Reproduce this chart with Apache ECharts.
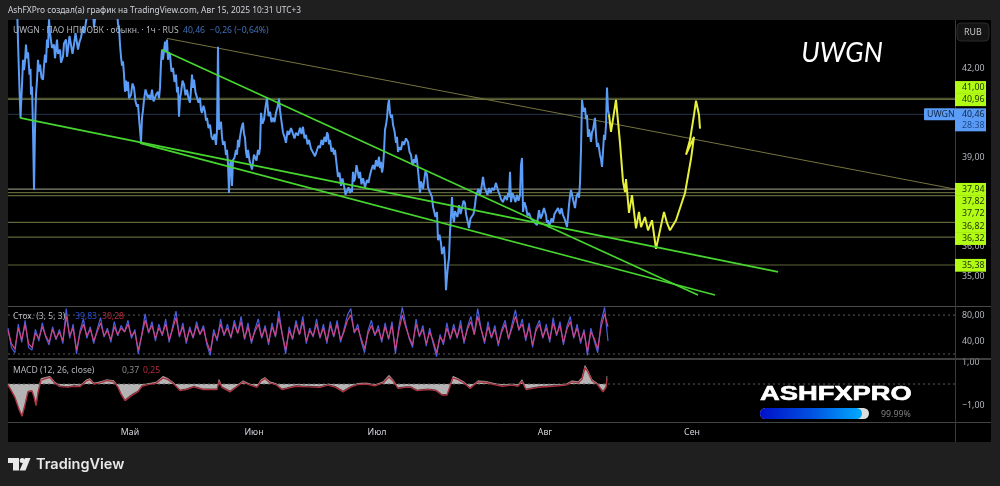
<!DOCTYPE html>
<html>
<head>
<meta charset="utf-8">
<style>html,body{margin:0;padding:0;background:#1f1f1f}#chart{width:1000px;height:486px}</style>
<script src="https://cdn.jsdelivr.net/npm/echarts@6/dist/echarts.min.js"></script>
</head>
<body>
<div id="chart"></div>
<script>
// Close price, hourly, as [bar, RUB]
const closePath = [[8,45],[9,44.2],[10,42.9],[11.5,41.29],[12.5,40.34],[13.5,41.1],[14.2,41.6],[15,42.3],[16,41.95],[17,42.25],[18,42.81],[19,42.35],[20,42.55],[21.5,41.8],[22.5,42.0],[23,41.12],[24,41.4],[25,39.94],[26,37.91],[27,39.94],[28,41.12],[29,41.6],[30,42.3],[31,41.9],[32,42.14],[33.5,41.7],[35,41.63],[36,42.1],[37,42.47],[38,42.2],[39,42.98],[40,42.7],[41,43.66],[42,43.2],[43,43.15],[44,42.7],[46,42.81],[47,42.35],[49,42.98],[50,42.5],[52,42.64],[53,42.2],[55,42.41],[56,42.85],[58,42.98],[59,42.4],[60,42.64],[61.5,43.1],[63,43.05],[64.5,42.5],[66,42.81],[67.5,43.2],[69,43.15],[70,42.64],[71.5,42.9],[73,43.05],[75,43.42],[76.5,43.2],[78,43.59],[80,43.93],[85,43.93],[86,43.39],[88,43.93],[92,44.16],[109,43.99],[110,43.5],[111,43.39],[112,42.81],[113,42.4],[114,42.1],[115,42.25],[116,41.8],[117,41.22],[118,41.6],[119,41.25],[120,41.56],[121,41.0],[123,41.12],[124.5,41.5],[126,41.36],[127.5,40.9],[129,40.72],[130,40.8],[131,40.34],[133,39.53],[134,40.34],[135,40.6],[136,40.95],[137.5,41.3],[139,41.36],[140,41.0],[141,41.12],[142.5,40.95],[144,41.29],[145.5,40.9],[147,40.88],[148.5,41.15],[150,41.22],[151,41.0],[152,41.36],[153,42.2],[154,42.64],[155,42.3],[157,42.91],[158,42.55],[159,42.98],[160,42.3],[161,42.55],[162,42.47],[163.5,41.9],[165,42.03],[166.5,41.55],[168,41.8],[169,41.2],[170,41.39],[171,40.38],[172,41.0],[173,41.19],[174.5,41.6],[176,41.46],[177.5,41.1],[179,41.29],[180.5,41.0],[182,40.85],[183,41.3],[184,41.8],[185,41.35],[186,41.63],[187.5,41.2],[189,41.19],[190.5,40.85],[192,41.02],[193,40.6],[194,40.51],[195.5,40.75],[197,40.55],[198,40.25],[199,40.34],[200.5,40.0],[202,40.11],[203.5,39.7],[205,39.6],[206.5,39.8],[208,39.43],[209,39.94],[210,42.74],[211,39.94],[212,40.0],[213,40.21],[214,39.7],[215,39.43],[216.5,39.55],[218,39.09],[219,39.26],[220,38.8],[221,37.81],[222,38.75],[223,38.92],[224,38.05],[225,38.92],[226.5,39.0],[228,39.26],[229,39.1],[230,39.6],[231,39.35],[232,39.7],[233.5,40.0],[235,40.18],[236,39.8],[237,39.67],[238,39.2],[239,38.99],[240,39.26],[241.5,38.9],[243,38.92],[244,38.6],[245,38.55],[246,39.1],[247,39.16],[248.5,38.9],[250,39.26],[251,39.1],[252,39.33],[253,40.51],[254.5,40.15],[256,40.28],[257.5,40.7],[259,41.02],[260.5,40.4],[262,40.55],[263.5,40.2],[265,40.34],[266.5,40.2],[268,40.51],[269.5,40.7],[271,40.99],[272,40.6],[273,40.34],[274,40.1],[275,39.84],[276.5,39.7],[278,39.5],[279.5,39.9],[281,39.77],[283,40.0],[285,39.94],[286.5,39.65],[288,39.84],[290,39.75],[292,40.01],[293.5,39.8],[295,40.04],[296.5,39.65],[298,39.77],[299.5,39.45],[301,39.6],[303,39.3],[305,39.33],[307,39.05],[309,39.03],[310.5,39.4],[312,39.33],[313.5,39.6],[315,39.43],[316.5,39.7],[318,39.53],[319,39.85],[320,39.77],[321,39.45],[322,39.6],[323.5,39.2],[325,39.33],[326,39.1],[327,39.26],[328.5,38.8],[330,38.35],[331.5,38.5],[333,38.05],[334.5,38.3],[336,38.05],[337.5,37.75],[339,37.74],[340.5,38.0],[342,37.81],[343,37.95],[344,37.84],[345,38.52],[346,38.2],[347,38.31],[348.5,38.75],[350,38.75],[351,38.3],[352,38.52],[353.5,38.1],[355,38.31],[357,38.0],[359,38.25],[360.5,38.15],[362,38.42],[363.5,38.6],[365,38.75],[366.5,38.6],[368,38.92],[369.5,38.7],[371,39.03],[372,38.65],[373,38.86],[374,38.5],[375,38.69],[376,39.2],[377,39.94],[378,40.1],[379,40.34],[380,40.75],[381,40.95],[382,40.5],[383,40.34],[384,40.45],[385,40.11],[386.5,39.9],[388,39.5],[389,39.7],[390,39.19],[391.5,39.35],[393,39.26],[394.5,39.55],[396,39.43],[398,39.65],[400,39.53],[401.5,39.2],[403,39.09],[404,38.85],[405,38.75],[406,38.95],[407,38.82],[408,39.1],[409,38.92],[410.5,38.4],[412,37.81],[413,38.2],[414,38.25],[415,37.95],[416,37.91],[417.5,38.55],[419,38.42],[420,38.0],[421,37.91],[422.5,37.85],[424,37.67],[425,37.35],[426,37.4],[427.5,37.0],[429,37.17],[430,36.22],[431.5,36.4],[433,36.12],[434,35.75],[435,35.78],[436,36.0],[437,35.48],[438,34.53],[439,35.0],[440,35.37],[441,35.61],[442,36.5],[443,37.06],[444,37.67],[445,37.0],[446,36.83],[447,37.2],[448,37.17],[449.5,37.0],[451,37.4],[452.5,37.1],[454,37.3],[455.5,37.55],[457,37.47],[458,37.1],[459,37.06],[460,36.8],[461,36.63],[462.5,36.95],[464,36.89],[465.5,37.1],[467,37.4],[468,37.7],[469,37.81],[470.5,37.95],[472,37.74],[473.5,38.0],[475,38.35],[476.5,38.0],[478,38.01],[479.5,37.75],[481,37.98],[482.5,37.8],[484,37.98],[486,37.9],[488,38.15],[489.5,37.95],[491,37.81],[493,37.6],[495,37.5],[497,37.7],[499,37.57],[500,37.8],[501,37.67],[502,38.52],[503,37.5],[504.5,37.8],[506,37.67],[507.5,37.5],[509,37.74],[510.5,37.55],[512,37.74],[513,38.75],[514,38.99],[515,37.17],[516.5,37.5],[518,37.33],[519.5,37.05],[521,37.13],[523,36.95],[525,37.0],[527,36.8],[529,36.73],[530,37.0],[531,37.23],[532.5,36.95],[534,37.06],[536,37.3],[538,37.06],[539,36.8],[540,36.89],[541,36.65],[542,36.59],[543.5,36.95],[545,36.83],[546.5,37.1],[548,37.06],[550,37.3],[552,37.1],[553.5,37.3],[555,37.06],[557,36.9],[559,36.66],[560,37.0],[561,37.4],[562,37.7],[563,37.91],[565,37.6],[567,37.3],[568.5,37.7],[570,37.81],[571,37.65],[572,38.15],[573,39.26],[574,40.95],[575.5,40.55],[577,40.68],[578,40.3],[579,40.44],[580,39.7],[581,39.95],[582,39.77],[583,39.53],[584,39.85],[585,39.94],[586,40.0],[587,40.34],[588,39.77],[589,39.36],[590,39.5],[591,39.33],[592,39.09],[593,38.95],[594,38.69],[595,39.2],[596,39.77],[597,39.6],[598,40.11],[599,41.36],[600,40.61],[601,40.46]];

// Hand-sketched outlook drawn after the last bar
const outlookPath = [[601,40.46],[603,39.87],[608,40.95],[612,39.5],[615,38.2],[617,37.84],[618,38.28],[621,37.14],[624,37.74],[628,36.62],[631,37.17],[633,36.66],[637,37.0],[640,36.55],[644,36.89],[648,35.93],[652,36.55],[656,37.17],[659,36.8],[662,36.55],[668,36.89],[677,37.81],[683,38.96],[686,39.7],[678,39.1],[682,39.6],[686,40.44],[688,40.92],[691,40.44],[692,39.98]];

// Drawn trendlines: start and end as [bar, RUB]
const supportUpper = [[12,40.34],[770,35.15]];
const supportLower = [[132,39.49],[707,34.37]];
const channelTop = [[154,42.64],[690,34.37]];
const longTrend = [[159,43.02],[947,37.94]];

// Horizontal levels and the tags on the price scale
const levels = [41.00, 40.96, 37.94, 37.82, 37.72, 36.82, 36.32, 35.38];
const lastClose = 40.46;
const priceTicks = [42, 39, 36, 35];

// Stochastic (3, 5, 3)
const stochK = [60,30,22,66,38,72,30,26,58,40,68,46,34,62,42,58,36,90,44,66,20,56,74,44,62,36,58,76,46,60,38,70,48,64,54,72,44,58,20,50,82,52,70,40,66,48,74,38,62,86,46,68,36,62,44,70,50,64,34,18,58,40,74,48,66,44,72,52,78,42,68,36,58,74,44,64,34,68,46,86,50,20,62,42,72,50,78,36,60,46,74,44,66,36,70,46,72,38,58,80,90,52,66,40,22,56,72,48,64,38,68,42,70,20,62,92,66,44,30,74,46,64,32,60,36,16,50,34,68,42,66,44,72,36,62,78,50,90,58,36,70,44,64,32,58,72,42,66,88,56,74,40,68,30,60,72,44,66,38,76,48,70,34,62,78,44,66,36,58,18,60,40,22,70,92,40];
const stochD = [56,36,28,60,42,66,36,30,52,44,62,48,38,58,44,54,40,78,48,60,26,52,66,48,58,40,54,68,48,56,42,62,50,60,54,66,48,54,26,48,72,54,64,44,60,50,66,42,58,76,48,62,40,58,46,64,50,60,38,24,52,44,66,50,60,46,66,52,70,44,62,40,54,66,46,60,38,62,48,76,50,26,56,44,66,50,70,40,56,48,66,46,60,40,64,48,66,42,54,72,80,54,60,44,28,52,64,50,58,42,62,44,64,26,56,80,62,46,34,66,48,58,36,54,40,22,46,38,60,44,60,46,64,40,58,70,50,78,58,40,62,46,58,36,54,66,44,60,78,58,66,44,62,34,56,66,46,60,42,68,50,64,38,58,70,46,60,40,54,24,54,44,28,62,82,62];

// MACD (12, 26, close) as [bar, value]
const macdLine = [[0,-0.03],[2,-0.17],[7,-0.56],[11,-1.1],[14,-1.42],[17,-0.85],[20,-0.3],[24,-0.28],[26,-0.55],[28,-0.93],[30,-0.3],[33,0.25],[37,0.3],[42,0.35],[47,0.08],[52,-0.07],[60,-0.1],[66,-0.05],[72,-0.07],[78,0.18],[82,0.25],[86,0.05],[92,0.1],[99,0.2],[106,0.15],[110,-0.1],[113,-0.4],[117,-0.7],[121,-0.55],[125,-0.42],[130,-0.3],[134,-0.05],[140,0.02],[148,0.08],[155,0.35],[160,0.25],[166,0.05],[172,-0.25],[178,-0.2],[186,-0.08],[195,-0.2],[203,-0.2],[209,-0.2],[211,0.2],[214,-0.1],[222,-0.3],[228,-0.1],[235,0.15],[242,0],[249,-0.1],[253,0.2],[257,0.3],[262,0.1],[268,0.02],[274,-0.2],[279,-0.15],[288,-0.05],[300,-0.08],[312,-0.1],[320,0],[328,-0.1],[335,-0.3],[342,-0.1],[350,0.03],[358,0.05],[367,-0.03],[375,0.1],[381,0.4],[385,0.2],[390,-0.15],[397,-0.1],[403,-0.1],[409,-0.25],[420,-0.2],[428,-0.25],[434,-0.45],[439,-0.45],[445,0.35],[450,0.25],[456,0.1],[462,-0.15],[470,0.15],[478,0.12],[486,0.03],[494,-0.05],[504,0],[510,-0.05],[514,0.2],[518,-0.2],[530,-0.1],[545,-0.05],[558,0],[564,0.15],[570,0.1],[574,0.3],[577,0.84],[580,0.6],[584,0.2],[589,0.05],[595,-0.3],[598,-0.1],[599,0.37]];
const macdSignal = [[0,-0.05],[2,-0.2],[7,-0.62],[11,-1.15],[14,-1.47],[17,-0.95],[20,-0.36],[24,-0.32],[26,-0.58],[28,-0.98],[30,-0.4],[33,0.18],[37,0.24],[42,0.3],[47,0.03],[52,-0.12],[60,-0.14],[66,-0.1],[72,-0.12],[78,0.13],[82,0.2],[86,0],[92,0.05],[99,0.16],[106,0.1],[110,-0.15],[113,-0.46],[117,-0.76],[121,-0.62],[125,-0.48],[130,-0.35],[134,-0.1],[140,-0.03],[148,0.03],[155,0.28],[160,0.2],[166,0],[172,-0.3],[178,-0.25],[186,-0.13],[195,-0.25],[203,-0.25],[209,-0.25],[211,0.12],[214,-0.15],[222,-0.36],[228,-0.15],[235,0.1],[242,-0.05],[249,-0.15],[253,0.13],[257,0.25],[262,0.05],[268,-0.03],[274,-0.25],[279,-0.2],[288,-0.1],[300,-0.13],[312,-0.15],[320,-0.05],[328,-0.15],[335,-0.36],[342,-0.15],[350,-0.02],[358,0],[367,-0.08],[375,0.05],[381,0.32],[385,0.15],[390,-0.2],[397,-0.15],[403,-0.15],[409,-0.3],[420,-0.25],[428,-0.3],[434,-0.5],[439,-0.5],[445,0.28],[450,0.2],[456,0.05],[462,-0.2],[470,0.1],[478,0.07],[486,-0.02],[494,-0.1],[504,-0.05],[510,-0.1],[514,0.12],[518,-0.25],[530,-0.15],[545,-0.1],[558,-0.05],[564,0.1],[570,0.05],[574,0.22],[577,0.75],[580,0.55],[584,0.15],[589,0],[595,-0.36],[598,-0.15],[599,0.25]];
const stochTicks = [80, 40];
const macdTicks = [1, -1];

// Month ticks on the bar axis
const monthBars = [122, 246, 369, 537, 684];
const monthNames = ['Май', 'Июн', 'Июл', 'Авг', 'Сен'];

const FONT = '"Noto Sans", sans-serif';
const BAR_MAX = 947;
const comma = v => v.toFixed(2).replace('.', ',').replace('-', '\u2212');

function line(x, y, data, color, width, extra) {
  return Object.assign({
    type: 'line', xAxisIndex: x, yAxisIndex: y, data, showSymbol: false, symbol: 'none',
    animation: false, silent: true, lineStyle: { color, width }
  }, extra || {});
}

const series = [];
levels.forEach((lv, i) => {
  const bright = i === 2;
  series.push(line(0, 0, [[0, lv], [BAR_MAX, lv]], bright ? '#85856f' : '#5f6638', 1.1));
});
series.push(line(0, 0, [[0, lastClose], [BAR_MAX, lastClose]], '#28344a', 1));
series.push(line(0, 0, longTrend, '#77733f', 1));
series.push(line(0, 0, closePath, '#5b9cf6', 2));
series.push(line(0, 0, outlookPath, '#e6f03c', 2));
[supportUpper, supportLower, channelTop].forEach(seg => series.push(line(0, 0, seg, '#47d62f', 1.7)));

const dashed = { lineStyle: { color: '#5c5c5c', width: 1, type: [2, 3] } };
series.push(line(1, 1, [[0, 80], [BAR_MAX, 80]], '#5c5c5c', 1, dashed));
series.push(line(1, 1, [[0, 20], [BAR_MAX, 20]], '#5c5c5c', 1, dashed));
const stochStep = 600 / (stochK.length - 1);
series.push(line(1, 1, stochK.map((v, i) => [i * stochStep, v]), '#4a5fe0', 1.2));
series.push(line(1, 1, stochD.map((v, i) => [i * stochStep, v]), '#cf4480', 1.2));

series.push(line(2, 2, [[0, 0], [BAR_MAX, 0]], '#5c5c5c', 1, dashed));
series.push(line(2, 2, macdLine, '#b5b5b5', 0.6, { areaStyle: { color: '#b4b4b4', opacity: 1, origin: 0 } }));
series.push(line(2, 2, macdSignal, '#a8323f', 1.4));

function valueY(index, ticks, min, max) {
  return {
    type: 'value', gridIndex: index, position: 'right', min, max, scale: true,
    splitLine: { show: false }, axisTick: { show: false }, axisLine: { show: false },
    axisLabel: { customValues: ticks, formatter: comma, color: '#b2b5be', fontFamily: FONT, fontSize: 8.8, margin: 7 }
  };
}
function barX(index, showLabels) {
  return {
    type: 'value', gridIndex: index, min: 0, max: BAR_MAX,
    splitLine: { show: false }, axisTick: { show: false }, axisLine: { show: false },
    axisLabel: showLabels ? {
      show: true, customValues: monthBars,
      formatter: v => monthNames[monthBars.indexOf(v)],
      color: '#d1d4dc', fontFamily: FONT, fontSize: 8.8, margin: 6
    } : { show: false }
  };
}

function txt(x, y, text, fill, size) {
  return {
    type: 'text', x, y, z: 50, silent: true,
    style: { text, fill, font: (size || 8.8) + 'px ' + FONT, textVerticalAlign: 'middle' }
  };
}
function box(x, y, w, h, fill, r, extra) {
  return Object.assign({ type: 'rect', z: 40, silent: true, shape: { x, y, width: w, height: h, r: r || 0 }, style: { fill } }, extra || {});
}
function rule(x1, y1, x2, y2, stroke, w) {
  return { type: 'line', z: 30, silent: true, shape: { x1, y1, x2, y2 }, style: { stroke, lineWidth: w } };
}

const chart = echarts.init(document.getElementById('chart'), null, { renderer: 'canvas' });

chart.setOption({
  animation: false,
  backgroundColor: '#1f1f1f',
  grid: [
    { left: 8, right: 45, top: 20, height: 286 },
    { left: 8, right: 45, top: 306, height: 53 },
    { left: 8, right: 45, top: 359, height: 63 }
  ],
  xAxis: [barX(0, false), barX(1, false), barX(2, true)],
  yAxis: [
    valueY(0, priceTicks, 34.0, 43.64),
    valueY(1, stochTicks, 12.3, 94),
    valueY(2, macdTicks, -1.73, 1.14)
  ],
  series
});

// Price tags: overlapping levels push downward, and a cluster pushed well past
// its own lowest level is lifted back so that level's tag sits on its line.
const ROW = 12.3;
const toY = lv => chart.convertToPixel({ yAxisIndex: 0 }, lv);
const clusters = [];
levels.slice().sort((a, b) => b - a).forEach(lv => {
  const natural = toY(lv);
  const cur = clusters[clusters.length - 1];
  if (cur && natural < cur[cur.length - 1].y + ROW) {
    cur.push({ lv, natural, y: cur[cur.length - 1].y + ROW });
  } else {
    clusters.push([{ lv, natural, y: natural }]);
  }
});
const tags = [];
clusters.forEach(c => {
  const last = c[c.length - 1];
  const over = last.y - last.natural;
  const lift = over > ROW / 2 ? over : 0;
  c.forEach(t => tags.push({ lv: t.lv, y: t.y - lift }));
});
const lastY = toY(lastClose);

const tagItems = [];
tags.forEach(t => tagItems.push(box(955, t.y - ROW / 2, 31, ROW + 0.5, '#b2fb14')));
tags.forEach(t => tagItems.push(txt(962, t.y, comma(t.lv), '#1c3300')));

chart.setOption({
  graphic: [
    // Panel behind the panes
    { type: 'rect', z: -10, silent: true, shape: { x: 8, y: 20, width: 983, height: 422 }, style: { fill: '#000' } },
    rule(8, 306.5, 991, 306.5, '#4a4a4a', 1.2),
    rule(8, 359, 991, 359, '#555', 1.6),
    rule(8, 422.5, 991, 422.5, '#444', 1),
    rule(955.5, 20, 955.5, 442, '#3a3a3a', 1),

    txt(8, 10.5, 'AshFXPro создал(а) график на TradingView.com, Авг 15, 2025 10:31 UTC+3', '#d1d4dc', 8.35),
    txt(13, 31, 'UWGN · ПАО НПК ОВК · обыкн. · 1ч · RUS', '#b4b6bc', 8.5),
    txt(183, 31, '40,46', '#3f70b8', 8.6),
    txt(210, 31, '\u22120,26 (\u22120,64%)', '#3f70b8', 8.6),
    txt(13, 317, 'Стох. (3, 5, 3)', '#b4b6bc', 8.6),
    txt(75, 317, '39,83', '#2b4fd0', 8.6),
    txt(102, 317, '30,28', '#b22c3e', 8.6),
    txt(13, 370.5, 'MACD (12, 26, close)', '#b4b6bc', 8.6),
    txt(122, 370.5, '0,37', '#8a8a8a', 8.6),
    txt(143, 370.5, '0,25', '#b22c3e', 8.6),

    { type: 'text', z: 50, silent: true, x: 842, y: 53, style: { text: 'UWGN', fill: '#fff', font: 'italic 27px Lato, sans-serif', textAlign: 'center', textVerticalAlign: 'middle' } },

    box(957, 23, 32, 18, '#141414', 4, { style: { fill: '#141414', stroke: '#2a2a2a', lineWidth: 1 } }),
    txt(964, 32, 'RUB', '#c8c8c8', 8.8),

    ...tagItems,
    box(924, lastY - 6, 31, 12, '#5b9cf6', 1),
    box(955, lastY - 6, 31, 23, '#5b9cf6'),
    txt(927, lastY, 'UWGN', '#0f2547', 8.8),
    txt(962, lastY, comma(lastClose), '#0f2547', 8.8),
    txt(962, lastY + 11, '28:38', '#1c4a8c', 8.8),

    { type: 'text', z: 50, silent: true, x: 760, y: 394.5, scaleX: 1.4,
      style: { text: 'ASHFXPRO', fill: '#fff', stroke: '#fff', lineWidth: 0.6, font: 'bold 19.5px "Liberation Sans", sans-serif', textVerticalAlign: 'middle' } },
    box(760, 408, 109, 11, '#dcdcdc', 5.5),
    { type: 'rect', z: 41, silent: true, shape: { x: 760, y: 408, width: 102, height: 11, r: 5.5 },
      style: { fill: new echarts.graphic.LinearGradient(0, 0, 1, 0, [
        { offset: 0, color: '#0010c8' }, { offset: 0.5, color: '#0050e0' }, { offset: 1, color: '#00aaff' }
      ]) } },
    txt(881, 414, '99.99%', '#808080', 8.8),

    // Wordmark in the footer
    { type: 'polygon', z: 50, silent: true, shape: { points: [[8, 458], [19, 458], [19, 470.5], [13, 470.5], [13, 463], [8, 463]] }, style: { fill: '#e8e8e8' } },
    { type: 'circle', z: 50, silent: true, shape: { cx: 22.2, cy: 460.5, r: 2.5 }, style: { fill: '#e8e8e8' } },
    { type: 'polygon', z: 50, silent: true, shape: { points: [[25, 458], [30.5, 458], [25.5, 470.5], [19.5, 470.5]] }, style: { fill: '#e8e8e8' } },
    { type: 'text', z: 50, silent: true, x: 36, y: 464.5, style: { text: 'TradingView', fill: '#e8e8e8', font: '600 14.5px Inter, sans-serif', textVerticalAlign: 'middle' } }
  ]
});
</script>
</body>
</html>
